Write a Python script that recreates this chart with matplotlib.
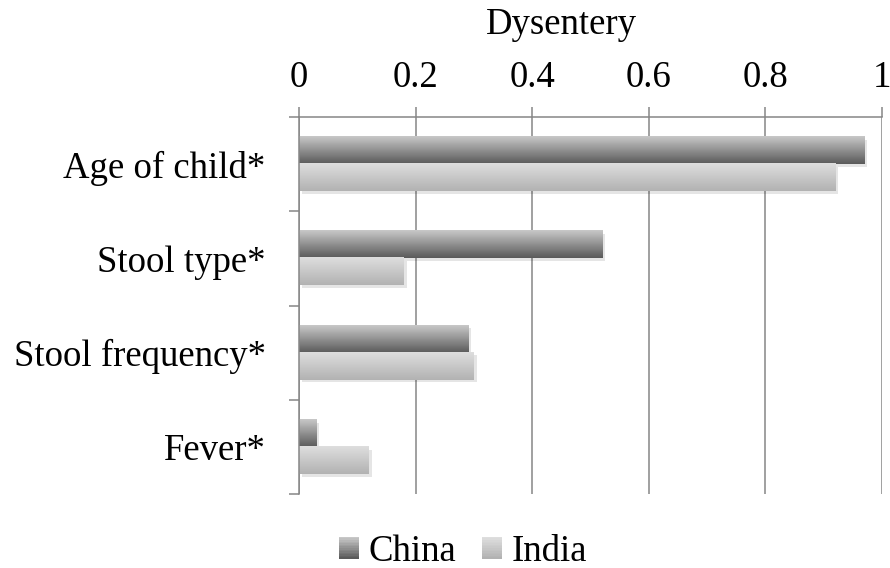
import numpy as np
import matplotlib
matplotlib.use("Agg")
import matplotlib.pyplot as plt
import matplotlib.patheffects as pe
from matplotlib.colors import LinearSegmentedColormap
from matplotlib.legend_handler import HandlerBase
from matplotlib.patches import Rectangle


# Data.

categories = ["Age of child*", "Stool type*", "Stool frequency*", "Fever*"]
china = [0.97, 0.52, 0.29, 0.03]
india = [0.92, 0.18, 0.30, 0.12]
series_names = ["China", "India"]
x_ticks = [0, 0.2, 0.4, 0.6, 0.8, 1.0]
x_tick_labels = ["0", "0.2", "0.4", "0.6", "0.8", "1"]
title = "Dysentery"

# Gradient (top colour, bottom colour) for each series.

gradients = [("#c8c8c8", "#5a5a5a"), ("#dedede", "#b2b2b2")]
grey = "#868686"


class GradientHandler(HandlerBase):
    """ Legend key drawn as a stack of thin strips. """

    def __init__(self, top, bottom, n=14):
        super().__init__()
        self.cmap = LinearSegmentedColormap.from_list("g", [top, bottom])
        self.n = n

    def create_artists(self, legend, orig_handle, xdescent, ydescent,
                       width, height, fontsize, trans):
        artists = []
        for i in range(self.n):
            y = -ydescent + height * (self.n - 1 - i) / self.n
            artists.append(Rectangle(
                (-xdescent, y), width, height / self.n + 0.2,
                facecolor=self.cmap(i / (self.n - 1)), edgecolor="none",
                transform=trans))
        return artists


plt.rcParams["font.family"] = ["Liberation Serif", "DejaVu Serif"]
plt.rcParams["font.size"] = 26.5

fig = plt.figure(figsize=(8.9, 5.68), dpi=100)
ax = fig.add_axes([299 / 890, 1 - 494 / 568, 583 / 890, 377 / 568])

pos = np.arange(len(categories))
bar_h = 0.287
offsets = [-bar_h / 2, bar_h / 2]

for vals, off, (top, bottom) in zip([china, india], offsets, gradients):
    bars = ax.barh(pos + off, vals, height=bar_h, color=bottom,
                   edgecolor="none", zorder=2)
    cmap = LinearSegmentedColormap.from_list("g", [top, bottom])
    grad = np.linspace(0, 1, 64).reshape(-1, 1)
    for p in bars:
        p.set_path_effects([pe.SimplePatchShadow(
            offset=(2, -2), shadow_rgbFace="k", alpha=0.1)])
        x0, y0 = p.get_x(), p.get_y()
        w, h = p.get_width(), p.get_height()
        ax.imshow(grad, cmap=cmap, extent=(x0, x0 + w, y0 + h, y0),
                  origin="upper", aspect="auto", zorder=2.5,
                  interpolation="bilinear")

ax.set_xlim(0, 1)
ax.set_ylim(len(categories) - 0.5, -0.5)

# X axis on top.

ax.xaxis.tick_top()
ax.set_xticks(x_ticks)
ax.set_xticklabels(x_tick_labels)
ax.tick_params(axis="x", direction="out", length=7, width=1.1, color=grey,
               pad=9)
ax.grid(axis="x", color=grey, linewidth=1.1, zorder=1)
ax.set_axisbelow(True)

# Category ticks at boundaries, labels at centres.

ax.set_yticks(np.arange(-0.5, len(categories), 1.0))
ax.set_yticklabels([])
ax.set_yticks(pos, minor=True)
ax.set_yticklabels(categories, minor=True)
ax.tick_params(axis="y", which="major", direction="out", length=7,
               width=1.1, color=grey)
ax.tick_params(axis="y", which="minor", length=0, pad=24)

for side in ["right", "bottom"]:
    ax.spines[side].set_visible(False)
for side in ["left", "top"]:
    ax.spines[side].set_color(grey)
    ax.spines[side].set_linewidth(1.1)

fig.text(561 / 890, 1 - 34 / 568, title, ha="center", va="baseline")

handles = [Rectangle((0, 0), 1, 1) for _ in series_names]
fig.legend(handles, series_names, loc="center",
           bbox_to_anchor=(463 / 890, 1 - 552 / 568), ncol=2, frameon=False,
           handlelength=0.55, handleheight=0.55, handletextpad=0.25,
           columnspacing=0.7, borderpad=0,
           handler_map={h: GradientHandler(*g)
                        for h, g in zip(handles, gradients)})

fig.savefig("out.png", dpi=100)
plt.close(fig)
